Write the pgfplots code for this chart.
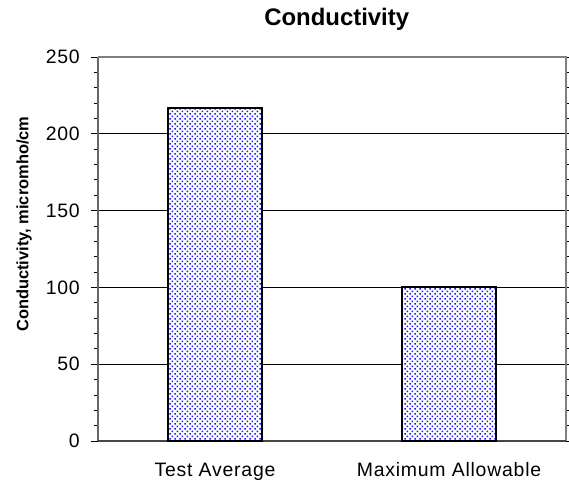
\documentclass[border=0pt]{standalone}
\usepackage{fontspec}
\setmainfont{Liberation Sans}
\usepackage{pgfplots}
\pgfplotsset{compat=1.18}
\usetikzlibrary{patterns.meta}
\definecolor{dotblue}{RGB}{20,20,255}
\pgfdeclarepattern{
  name=mydots,
  type=uncolored,
  bottom left={\pgfpoint{0bp}{0bp}},
  top right={\pgfpoint{4.7bp}{5.4bp}},
  tile size={\pgfpoint{4.7bp}{5.4bp}},
  code={
    \pgfpathrectangle{\pgfpoint{0.5bp}{0.5bp}}{\pgfpoint{1.6bp}{1.6bp}}
    \pgfpathrectangle{\pgfpoint{2.85bp}{3.2bp}}{\pgfpoint{1.6bp}{1.6bp}}
    \pgfusepath{fill}
  }
}
\begin{document}
\begin{tikzpicture}[x=1bp,y=1bp]
\path[use as bounding box] (0,0) rectangle (569,482);
\begin{axis}[
  at={(98bp,41bp)}, anchor=south west,
  scale only axis, width=468bp, height=384bp,
  xmin=-0.5, xmax=1.5, ymin=0, ymax=250,
  xtick={0,1}, xticklabels={Test Average, Maximum Allowable},
  extra x ticks={-0.5,0.5,1.5}, extra x tick labels={},
  extra x tick style={tick style={black, line width=0.8pt}},
  xtick style={draw=none},
  ytick={0,50,...,250}, minor y tick num=4,
  ymajorgrids, major grid style={black, line width=0.7pt},
  tick align=outside, major tick length=7bp, minor tick length=4.5bp,
  y tick style={black, line width=0.8pt},
  axis line style={draw=none},
  axis on top=false,
  every tick label/.append style={font=\fontsize{19.5}{23}\selectfont\addfontfeature{LetterSpace=4}, inner sep=0pt},
  /pgf/number format/assume math mode=true,
  xticklabel style={anchor=base, yshift=-28.7bp},
  yticklabel style={anchor=east, xshift=-11bp},
  title={Conductivity},
  title style={font=\fontsize{24}{28}\selectfont\bfseries, at={(0.5,1)}, anchor=base, inner sep=0pt, yshift=25.3bp, xshift=4.7bp},
  ylabel={Conductivity, micromho/cm},
  ylabel style={font=\fontsize{16.5}{19}\selectfont\bfseries, at={(axis description cs:-0.158,0.565)}, anchor=center, inner sep=0pt},
  clip=false,
]
\addplot[ybar, bar width=93.3bp, draw=black, line width=2pt, fill=white, postaction={pattern={mydots}, pattern color=dotblue}]
  coordinates {(0,217) (1,100)};
\draw[gray!80!black, line width=2.5pt] (axis cs:-0.5,0) -- (axis cs:-0.5,250);
\draw[gray, line width=2pt] (axis cs:-0.5,250) -- (axis cs:1.5,250) -- (axis cs:1.5,0);
\draw[gray!55!black, line width=2.5pt] (axis cs:-0.5,0) -- (axis cs:1.5,0);
\addplot[ybar, bar width=93.3bp, draw=black, line width=2pt, fill=none, forget plot]
  coordinates {(0,217) (1,100)};
\end{axis}
\end{tikzpicture}
\end{document}
